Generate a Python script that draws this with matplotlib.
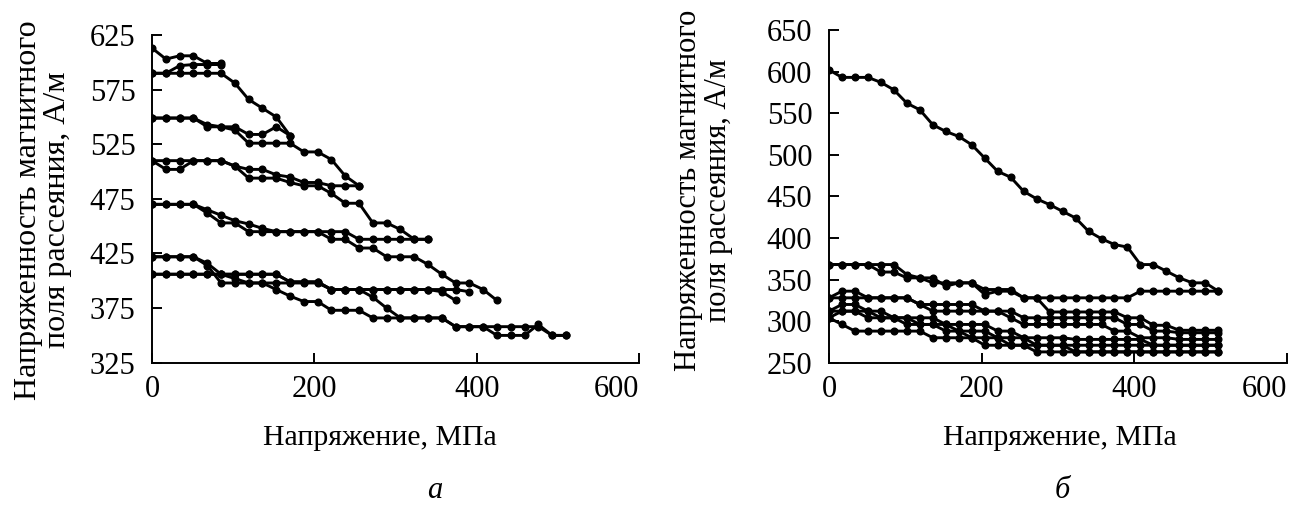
import numpy as np
import matplotlib.pyplot as plt

plt.rcParams['font.family'] = ['Liberation Serif', 'DejaVu Serif']

# шаг по напряжению между точками измерения, МПа
step = 17

# ----- а) кривые H(σ), левый график -----
a_curves = [
    [613, 603, 606, 606, 599, 599],
    [590, 590, 597, 598, 598, 598],
    [590, 590, 590, 590, 590, 590, 581, 566, 558, 550, 533],
    [549, 549, 549, 549, 541, 541, 541, 534, 534, 541, 533],
    [549, 549, 549, 549, 543, 541, 538, 526, 526, 526, 526, 518, 518, 511, 496, 487],
    [510, 502, 502, 510, 510, 510, 505, 502, 502, 497, 495, 490, 490, 487, 487, 487],
    [510, 510, 510, 510, 510, 510, 505, 494, 494, 494, 490, 487, 487, 480, 471, 471,
     453, 453, 447, 438, 438],
    [470, 470, 470, 470, 465, 460, 455, 452, 448, 445, 445, 445, 445, 445, 445, 438,
     438, 438, 438, 438, 438],
    [470, 470, 470, 470, 462, 453, 453, 445, 445, 445, 445, 445, 445, 438, 438, 430,
     430, 422, 422, 422, 415, 406, 398, 398, 392, 382],
    [422, 422, 422, 422, 414, 398, 398, 398, 398, 398, 398, 398, 398, 392, 392, 392,
     392, 392, 392, 392, 392, 392, 392, 390],
    [422, 422, 422, 422, 416, 406, 402, 398, 398, 392, 386, 381, 381, 373, 373, 373,
     366, 366, 366, 366, 366, 366, 358, 358, 358, 350, 350, 350, 360, 350, 350],
    [406, 406, 406, 406, 406, 406, 406, 406, 406, 406, 399, 399, 399, 392, 392, 392,
     385, 375, 366, 366, 366, 366, 358, 358, 358, 358, 358, 358, 358, 350, 350],
    [406, 406, 406, 406, 406, 406, 406, 406, 406, 406, 399, 399, 399, 392, 392, 392,
     392, 392, 392, 392, 392, 390, 382],
]

# ----- б) кривые H(σ), правый график -----
b_curves = [
    [602, 593, 593, 593, 587, 578, 562, 554, 536, 528, 522, 512, 496, 480, 473, 456,
     447, 440, 432, 424, 408, 399, 392, 389, 368, 368, 360, 352, 346, 346, 336],
    [368, 368, 368, 368, 359, 359, 352, 352, 352, 342, 346, 346, 332, 336, 336, 328,
     328, 328, 328, 328, 328, 328, 328, 328, 336, 336, 336, 336, 336, 336, 336],
    [368, 368, 368, 368, 368, 368, 356, 352, 346, 346, 346, 346, 338, 338, 338, 328,
     328, 311, 311, 311, 311, 311, 311, 304, 304, 295, 295, 289, 289, 289, 289],
    [328, 336, 336, 328, 328, 328, 328, 320, 320, 320, 320, 320, 312, 312, 312, 304,
     304, 304, 304, 304, 304, 304, 304, 296, 296, 288, 288, 286, 286, 286, 286],
    [328, 328, 328, 328, 328, 328, 328, 320, 312, 312, 312, 312, 312, 312, 304, 296,
     296, 296, 296, 296, 296, 296, 288, 288, 280, 280, 280, 278, 278, 278, 278],
    [312, 320, 320, 312, 312, 304, 304, 304, 304, 296, 296, 296, 296, 288, 288, 280,
     280, 280, 280, 278, 278, 278, 278, 278, 278, 271, 271, 271, 271, 271, 271],
    [312, 312, 312, 312, 304, 304, 304, 296, 296, 296, 288, 288, 288, 280, 280, 280,
     271, 271, 271, 271, 271, 271, 271, 271, 271, 271, 271, 271, 271, 271, 271],
    [304, 312, 312, 304, 304, 304, 296, 296, 296, 288, 288, 280, 280, 280, 271, 271,
     271, 271, 271, 263, 263, 263, 263, 263, 263, 263, 263, 263, 263, 263, 263],
    [304, 296, 288, 288, 288, 288, 288, 288, 280, 280, 280, 280, 271, 271, 271, 271,
     263, 263, 263, 263, 263, 263, 263, 263, 263, 263, 263, 263, 263, 263, 263],
]

a_yticks = [325, 375, 425, 475, 525, 575, 625]
b_yticks = [250, 300, 350, 400, 450, 500, 550, 600, 650]
xticks = [0, 200, 400, 600]

fig = plt.figure(figsize=(13, 5.08), dpi=100)
ax1 = fig.add_axes([0.117, 0.286, 0.3745, 0.645])
ax2 = fig.add_axes([0.6377, 0.286, 0.3523, 0.655])


def draw(ax, curves, yticks):
    for c in curves:
        x = np.arange(len(c)) * step
        ax.plot(x, c, color='black', lw=2.1, marker='o', ms=4.8, mfc='black',
                mec='black', solid_joinstyle='round')
    ax.set_xlim(0, 600)
    ax.set_ylim(yticks[0], yticks[-1])
    ax.set_xticks(xticks)
    ax.set_yticks(yticks)
    for s in ['top', 'right']:
        ax.spines[s].set_visible(False)
    for s in ['left', 'bottom']:
        ax.spines[s].set_linewidth(1.4)
    ax.tick_params(direction='in', length=7, width=1.4, labelsize=22, pad=9)
    ax.tick_params(axis='y', pad=12)
    # подпись "600" прижата к правому краю оси
    ax.get_xticklabels()[-1].set_horizontalalignment('right')


draw(ax1, a_curves, a_yticks)
draw(ax2, b_curves, b_yticks)

ylab = 'Напряженность магнитного\nполя рассеяния, А/м'
fig.text(0.033, 0.587, ylab, rotation=90, ha='center', va='center',
         fontsize=23, linespacing=1.03)
fig.text(0.541, 0.625, ylab, rotation=90, ha='center', va='center',
         fontsize=22, linespacing=1.07)

fig.text(0.2923, 0.138, 'Напряжение, МПа', ha='center', va='center', fontsize=21.5)
fig.text(0.815, 0.138, 'Напряжение, МПа', ha='center', va='center', fontsize=21.5)

fig.text(0.3346, 0.035, 'а', ha='center', va='center', fontsize=22, style='italic')
fig.text(0.817, 0.035, 'б', ha='center', va='center', fontsize=22, style='italic')

fig.savefig('out.png', dpi=100)
